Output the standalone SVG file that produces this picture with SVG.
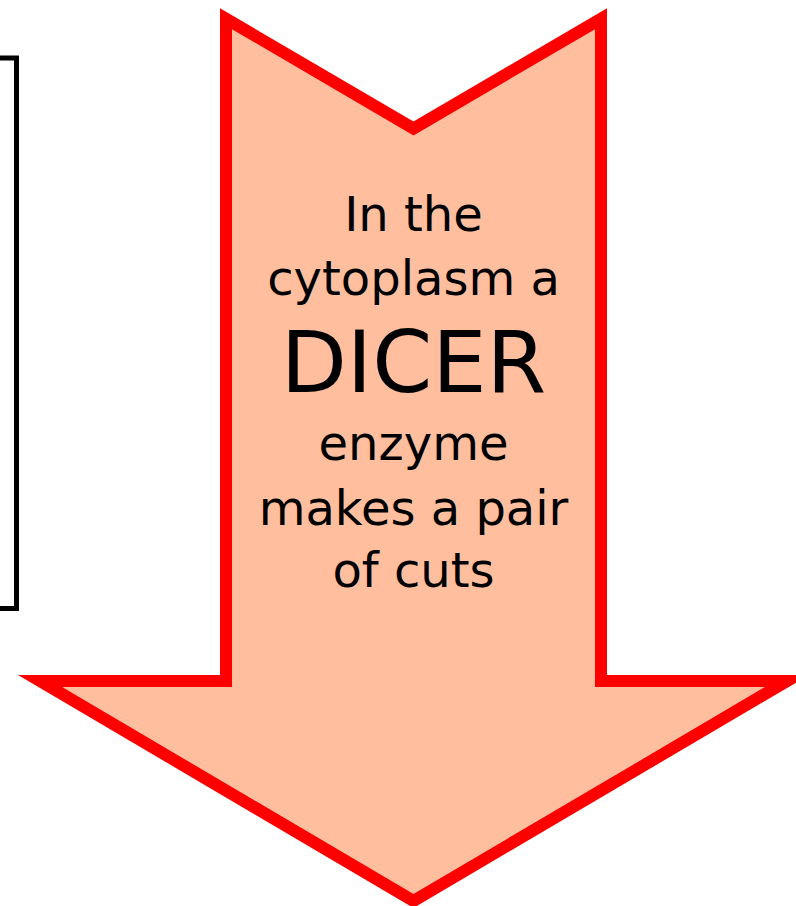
<svg xmlns="http://www.w3.org/2000/svg" width="796" height="906" viewBox="0 0 796 906">
<style>
.arrow{fill:#FFBF9F;stroke:#FF0000;stroke-width:12;stroke-linejoin:miter;stroke-miterlimit:10}
.box{fill:none;stroke:#000000;stroke-width:5}
.t{font-family:"DejaVu Sans","Liberation Sans",sans-serif;fill:#000000;text-anchor:middle;font-size:48px}
.big{font-size:86px}
</style>
<rect width="796" height="906" fill="#FFFFFF"/>
<g id="left-box">
<rect class="box" x="-20" y="58" width="36.5" height="550.5"/>
</g>
<g id="dicer-arrow">
<path class="arrow" d="M226,18.7 L413.5,128.5 L601,18.7 L601,681 L787,681 L413.5,901 L40,681 L226,681 Z"/>
<text class="t" x="413.5" y="231">In the</text>
<text class="t" x="413.5" y="295">cytoplasm a</text>
<text class="t big" x="413.5" y="392">DICER</text>
<text class="t" x="413.5" y="460">enzyme</text>
<text class="t" x="413.5" y="525">makes a pair</text>
<text class="t" x="413.5" y="587">of cuts</text>
</g>
<g id="connectors"/>
</svg>
